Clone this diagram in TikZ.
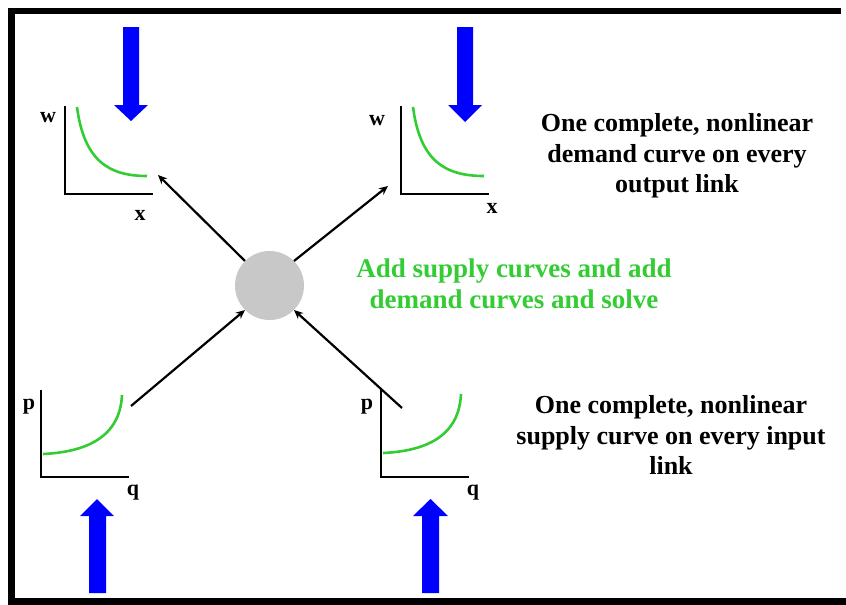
\documentclass[tikz,border=0pt]{standalone}
\usepackage{fontspec}
\setmainfont{Liberation Serif}
\usetikzlibrary{arrows.meta}
\definecolor{cgreen}{RGB}{51,204,51}
\definecolor{cgray}{RGB}{200,200,200}
\tikzset{
  axis/.style={line width=2.7pt, line cap=rect},
  curve/.style={cgreen, line width=2.6pt},
  link/.style={line width=2.2pt, -{Stealth[length=9pt,width=8pt]}},
  lbl/.style={font=\bfseries\fontsize{22}{24}\selectfont, inner sep=0pt},
  txt/.style={font=\bfseries\fontsize{26}{30.5}\selectfont, align=center, inner sep=0pt},
  bluearrow/.style={fill=blue, draw=none},
}
\begin{document}
\begin{tikzpicture}[x=1pt,y=-1pt]
\useasboundingbox (0,0) rectangle (846,605);
% frame
\fill (8,8) rectangle (841,14);
\fill (8,8) rectangle (15,605);
\fill (8,598) rectangle (846,605);

% centre node
\node[circle, fill=cgray, minimum size=69pt, inner sep=0pt] (c) at (269.5,285.5) {};

% top-left graph
\draw[axis] (65,107) -- (65,194) -- (152,194);
\draw[curve] (77,107) .. controls (84,160) and (108,176) .. (147,176);
\node[lbl] (wl) at (48,118) {w};
\node[lbl] (xl) at (140,215) {x};
\fill[bluearrow] (123,27) -- (139,27) -- (139,105) -- (148,105) -- (131,121) -- (114,105) -- (123,105) -- cycle;

% top-right graph
\draw[axis] (401,107) -- (401,194) -- (488,194);
\draw[curve] (413,107) .. controls (420,160) and (444,176) .. (484,176);
\node[lbl] (wr) at (377,121) {w};
\node[lbl] (xr) at (492,208) {x};
\fill[bluearrow] (457,27) -- (473,27) -- (473,105) -- (482,105) -- (465,122) -- (448,105) -- (457,105) -- cycle;

% bottom-left graph
\draw[axis] (41,391) -- (41,477) -- (128,477);
\draw[curve] (43,454) .. controls (85,452) and (120,438) .. (122,395);
\node[lbl] (pl) at (29,406.5) {p};
\node[lbl] (ql) at (133,493) {q};
\fill[bluearrow] (89,593) -- (106,593) -- (106,516) -- (114,516) -- (97,499) -- (80,516) -- (89,516) -- cycle;

% bottom-right graph
\draw[axis] (381,391) -- (381,477) -- (468,477);
\draw[curve] (383,453) .. controls (425,451) and (459,437) .. (461,394);
\node[lbl] (pr) at (367,406.5) {p};
\node[lbl] (qr) at (473,493) {q};
\fill[bluearrow] (422,593) -- (439,593) -- (439,516) -- (448,516) -- (430.5,499) -- (413,516) -- (422,516) -- cycle;

% connectors
\coordinate (tl) at (158,175);
\coordinate (tr) at (388,186);
\coordinate (bl) at (131,406);
\coordinate (br) at (402,408);
\draw[link] (c.135) -- (tl);
\draw[link] (c.45) -- (tr);
\draw[link] (bl) -- (c.225);
\draw[link] (br) -- (c.315);

% texts
\node[txt, text=cgreen, font=\bfseries\fontsize{27}{31.5}\selectfont] (mid) at (514,284) {Add supply curves and add\\demand curves and solve};
\node[txt] (dem) at (677,156) {One complete, nonlinear\\demand curve on every\\output link};
\node[txt] (sup) at (671,435) {One complete, nonlinear\\supply curve on every input\\link};
\end{tikzpicture}
\end{document}
